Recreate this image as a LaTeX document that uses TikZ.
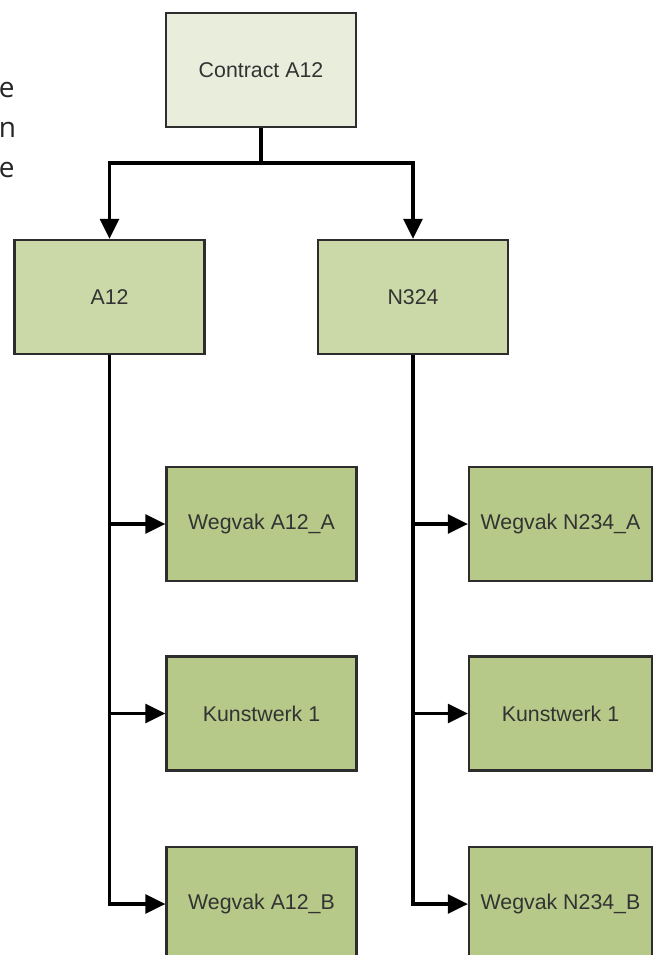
\documentclass[tikz,border=0pt]{standalone}
\usepackage{fontspec}
\setmainfont{Liberation Sans}
\newfontfamily\bodyfont{Open Sans}
\usetikzlibrary{arrows.meta}

\definecolor{topfill}{RGB}{233,237,220}
\definecolor{roadfill}{RGB}{203,217,169}
\definecolor{partfill}{RGB}{182,201,136}
\definecolor{boxline}{RGB}{45,45,45}

\begin{document}
\begin{tikzpicture}[x=0.75pt,y=0.75pt,yscale=-1,xscale=1,
		box/.style={draw=boxline,line width=1.6pt,rectangle,minimum width=142.5pt,minimum height=85.5pt,
			inner sep=0pt,text=black!80,font=\fontsize{16}{19}\selectfont},
		contractbox/.style={box,fill=topfill},
		roadbox/.style={box,fill=roadfill},
		partbox/.style={box,fill=partfill},
		partboxR/.style={partbox,minimum width=137.25pt},
		conn/.style={line width=2.5pt,black},
		arr/.style={conn,-{Triangle[length=15pt,width=14pt]}},
		wordend/.style={anchor=base west,inner sep=0pt,text=black!85,font=\bodyfont\fontsize{21}{25}\selectfont}]
		
		\path[use as bounding box,clip] (0,0) rectangle (656,955);
		
		% end of the paragraph lines on the left
		\node[wordend] (lineone) at (-1.5,98) {e};
		\node[wordend] (linetwo) at (-1.5,138) {n};
		\node[wordend] (linethree) at (-1.5,178) {e};
		
		% contract and roads
		\node[contractbox] (contract) at (261,70) {Contract A12};
		\node[roadbox] (a12) at (109.5,297) {A12};
		\node[roadbox] (n324) at (413,297) {N324};
		
		% parts of road A12
		\node[partbox] (wegvakAa) at (261.5,524) {Wegvak A12\_A};
		\node[partbox] (kunstA) at (261.5,713.5) {Kunstwerk 1};
		\node[partbox] (wegvakAb) at (261.5,904) {Wegvak A12\_B};
		
		% parts of road N324
		\node[partboxR] (wegvakNa) at (560.5,524) {Wegvak N234\_A};
		\node[partboxR] (kunstN) at (560.5,713.5) {Kunstwerk 1};
		\node[partboxR] (wegvakNb) at (560.5,904) {Wegvak N234\_B};
		
		% Connectors
		\coordinate (split) at (261,163);
		\draw[conn] (contract.south) -- (split);
		\draw[arr] (split) -| (a12.north);
		\draw[arr] (split) -| (n324.north);
		
		% trunks with their branches
		\draw[arr] (a12.south) |- (wegvakAb.west);
		\foreach \part in {wegvakAa,kunstA}
		\draw[arr] (a12.south |- \part.west) -- (\part.west);
		\draw[arr] (n324.south) |- (wegvakNb.west);
		\foreach \part in {wegvakNa,kunstN}
		\draw[arr] (n324.south |- \part.west) -- (\part.west);
		
	\end{tikzpicture}
\end{document}
